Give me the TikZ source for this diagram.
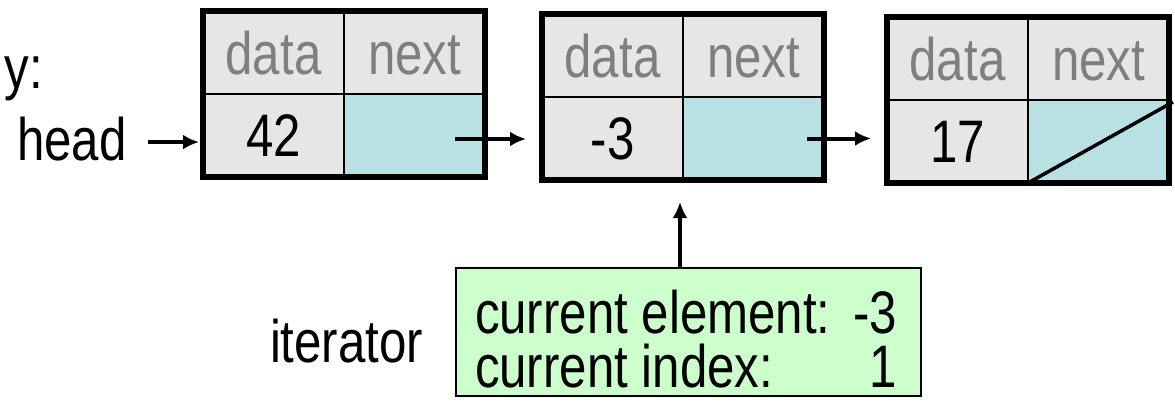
\documentclass[tikz,border=0pt]{standalone}
\usepackage{fontspec}
\setmainfont[FakeStretch=0.82]{Liberation Sans}
\usetikzlibrary{calc,arrows.meta}
\definecolor{cellgray}{HTML}{E6E6E6}
\definecolor{ptrblue}{HTML}{B9E0E3}
\definecolor{itgreen}{HTML}{CCFFCC}
\definecolor{hdrtext}{HTML}{7F7F7F}

\tikzset{
  basecell/.style={draw=black, line width=1.8pt, inner sep=0pt, outer sep=0pt,
    anchor=north west, minimum width=141pt, minimum height=83pt},
  hdrcell/.style={basecell, fill=cellgray, text=hdrtext, text height=43pt, text depth=0pt},
  valcell/.style={basecell, fill=cellgray, text height=41pt, text depth=0pt},
  ptrcell/.style={basecell, fill=ptrblue},
  frame/.style={draw=black, line width=6pt},
  ptr/.style={draw=black, line width=4pt, -{Latex[length=16pt,width=15pt]}},
  lbl/.style={inner sep=0pt, outer sep=0pt},
}

% one list node: name, top-left x, top-left y, stored value
\newcommand{\listnode}[4]{%
  \node[hdrcell] (#1dh) at (#2,#3) {data};
  \node[hdrcell] (#1nh) at (#1dh.north east) {next};
  \node[valcell] (#1d) at (#1dh.south west) {#4};
  \node[ptrcell] (#1n) at (#1nh.south west) {};
  \draw[frame] (#1dh.north west) rectangle (#1n.south east);
}

\begin{document}
\begin{tikzpicture}[x=1pt, y=-1pt, font=\fontsize{60pt}{51pt}\selectfont]
  \useasboundingbox (0,0) rectangle (1175,410);

  \listnode{a}{203}{11}{42}
  \listnode{b}{542}{14}{-3}
  \listnode{c}{887}{17}{17}

  % null pointer in the last node
  \draw[line width=3.5pt] (cn.south west) -- ([xshift=4pt,yshift=-2pt]cn.north east);

  % labels
  \node[lbl, anchor=base east] (mem) at (43,88) {y:};
  \node[lbl, anchor=base west] (head) at (17,160) {head};
  \node[lbl, anchor=base west] (itlabel) at (270,362) {iterator};

  % iterator state
  \node[draw=black, line width=2pt, fill=itgreen, anchor=north west,
        minimum width=465pt, minimum height=128pt, inner sep=0pt] (it) at (455,267) {};
  \node[lbl, anchor=base west] (elname) at (475,333) {current element:};
  \node[lbl, anchor=base east] (elval)  at (897,333) {-3};
  \node[lbl, anchor=base west] (ixname) at (475,387) {current index:};
  \node[lbl, anchor=base east] (ixval)  at (897,387) {1};

  % pointers
  \coordinate (hs) at ([xshift=22pt, yshift=-3.5pt]head.east);
  \draw[ptr] (hs) -- ([xshift=-4pt]hs -| ad.west);
  \coordinate (as) at ([xshift=40.5pt, yshift=-3.5pt]an.center);
  \draw[ptr] (as) -- ([xshift=-16pt]as -| bd.west);
  \coordinate (bs) at ([xshift=53.5pt]bn.center);
  \draw[ptr] (bs) -- ([xshift=-16pt]bs -| cd.west);
  \coordinate (us) at ([xshift=-8.5pt]it.north);
  \coordinate (ut) at ($(us)+(0,-65)$);
  \draw[ptr] (us) -- (ut);
\end{tikzpicture}
\end{document}
